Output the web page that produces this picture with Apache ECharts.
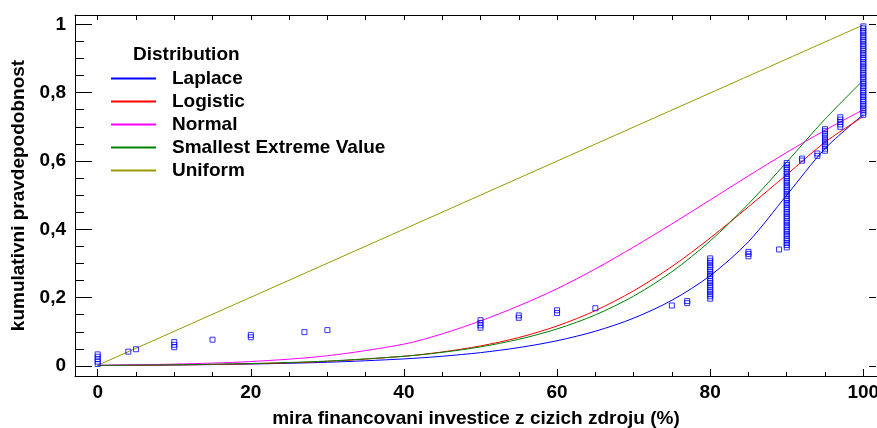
<!DOCTYPE html>
<html>
<head>
<meta charset="utf-8">
<script src="https://cdn.jsdelivr.net/npm/echarts@6/dist/echarts.min.js"></script>
<style>
    html, body { margin: 0; padding: 0; background: #fff; }
    #chart { width: 877px; height: 428px; }
</style>
</head>
<body>
<div id="chart"></div>
<script>
    // fitted CDF curves
    const cdfX = [0, 10, 20, 30, 40, 45, 50, 55, 60, 65, 70, 75, 80, 85, 90, 95, 100]
    const laplaceY = [0.0016, 0.0031, 0.0058, 0.0109, 0.0207, 0.0285, 0.0391, 0.0538, 0.0739, 0.1017, 0.1399, 0.1923, 0.2644, 0.3638, 0.5, 0.6362, 0.7356]
    const logisticY = [0.0014, 0.003, 0.0064, 0.0136, 0.0285, 0.041, 0.0587, 0.0833, 0.117, 0.162, 0.22, 0.291, 0.3745, 0.466, 0.56, 0.655, 0.73]
    const normalY = [0.002, 0.0055, 0.013, 0.03, 0.064, 0.094, 0.132, 0.176, 0.226, 0.284, 0.348, 0.4158, 0.486, 0.5564, 0.625, 0.69, 0.75]
    const sevY = [0.0018, 0.0036, 0.0072, 0.0144, 0.0285, 0.0399, 0.0559, 0.0781, 0.1084, 0.1495, 0.2044, 0.2758, 0.3659, 0.4744, 0.5967, 0.7224, 0.8363]
    const uniformX = [0, 100]
    const uniformY = [0.002, 0.998]

    // observed values (empirical cdf), one list per x value
    const obsX = [0, 4, 5, 10, 15, 20, 27, 30, 50, 55, 60, 65, 75, 77, 80, 85, 89, 90, 92, 94, 95, 97, 100]
    const obsY = [
        [0.006, 0.013, 0.020, 0.027, 0.034],
        [0.042],
        [0.049],
        [0.055, 0.062, 0.070],
        [0.077],
        [0.084, 0.091],
        [0.099],
        [0.105],
        [0.112, 0.119, 0.126, 0.134],
        [0.141, 0.148],
        [0.155, 0.163],
        [0.169],
        [0.177],
        [0.184, 0.190],
        [0.197, 0.204, 0.210, 0.217, 0.223, 0.230, 0.236, 0.243, 0.249, 0.256, 0.263, 0.269, 0.276, 0.282, 0.289, 0.295, 0.302, 0.308, 0.315],
        [0.321, 0.328, 0.334],
        [0.341],
        [0.347, 0.354, 0.360, 0.367, 0.373, 0.380, 0.386, 0.393, 0.399, 0.406, 0.412, 0.419, 0.425, 0.432, 0.438, 0.445, 0.451, 0.458, 0.464, 0.471,
         0.477, 0.484, 0.490, 0.497, 0.503, 0.510, 0.516, 0.523, 0.529, 0.536, 0.542, 0.549, 0.555, 0.562, 0.568, 0.575, 0.581, 0.588, 0.594],
        [0.601, 0.607],
        [0.615, 0.622],
        [0.630, 0.636, 0.643, 0.649, 0.655, 0.662, 0.668, 0.674, 0.680, 0.687, 0.693],
        [0.700, 0.707, 0.714, 0.721, 0.728],
        [0.735, 0.741, 0.748, 0.754, 0.761, 0.767, 0.774, 0.780, 0.787, 0.793, 0.800, 0.806, 0.813, 0.819, 0.826, 0.832, 0.839, 0.845, 0.852, 0.858,
         0.865, 0.871, 0.877, 0.884, 0.890, 0.897, 0.903, 0.910, 0.916, 0.923, 0.929, 0.936, 0.942, 0.949, 0.955, 0.962, 0.968, 0.975, 0.981, 0.988, 0.994]
    ]

    const xMajor = [0, 20, 40, 60, 80, 100]
    const xMinor = [5, 10, 15, 25, 30, 35, 45, 50, 55, 65, 70, 75, 85, 90, 95]
    const xTop = [0, 5, 10, 15, 20, 25, 30, 35, 40, 45, 50, 55, 60, 65, 70, 75, 80, 85, 90, 95, 100]
    const yMajor = [0, 0.2, 0.4, 0.6, 0.8, 1]

    const distNames = ['Laplace', 'Logistic', 'Normal', 'Smallest Extreme Value', 'Uniform']

    const font = 'Liberation Sans, Arial, sans-serif'
    const xMin = -2.965, xMax = 101.79
    const yMin = -0.0293, yMax = 1.0272

    function pairs (xs, ys) {
        return xs.map((x, i) => [x, ys[i]])
    }

    let points = []
    obsX.forEach((x, i) => {
        obsY[i].forEach(y => points.push([x, y]))
    })

    const boldText = { fontSize: 19, fontWeight: 'bold', color: '#000', fontFamily: font }

    // grid 0 = the frame with the data, grid 1 = only the y ticks (0..1 exactly)
    function xAx (extra) {
        return Object.assign({
            type: 'value', min: xMin, max: xMax, position: 'bottom',
            splitLine: { show: false },
            axisLine: { show: false, onZero: false },
            axisLabel: { show: false },
            axisTick: { show: false }
        }, extra)
    }

    function lineSeries (name, xs, ys, color) {
        return {
            name: name,
            type: 'line',
            data: pairs(xs, ys),
            smooth: 0.3,
            showSymbol: false,
            symbol: 'none',
            lineStyle: { color: color, width: 1 },
            itemStyle: { color: color },
            z: 2
        }
    }

    const option = {
        animation: false,
        backgroundColor: '#fff',
        textStyle: { fontFamily: font },
        title: {
            text: 'Distribution',
            left: 133,
            top: 45,
            padding: 0,
            textStyle: boldText
        },
        legend: {
            data: distNames,
            orient: 'vertical',
            left: 110,
            top: 69,
            padding: 0,
            itemGap: 4,
            itemWidth: 45,
            itemHeight: 14,
            itemStyle: { color: 'rgba(0,0,0,0)', borderWidth: 0, opacity: 0 },
            textStyle: Object.assign({ padding: [0, 0, 0, 11] }, boldText)
        },
        grid: [
            { left: 75, top: 15, right: 0, bottom: 52, outerBoundsMode: 'none' },
            { left: 0, top: 24.3, right: 0, bottom: 62, outerBoundsMode: 'none' }
        ],
        xAxis: [
            xAx({
                name: 'mira financovani investice z cizich zdroju (%)',
                nameLocation: 'middle',
                nameGap: 33,
                nameTextStyle: boldText,
                axisLine: { show: true, onZero: false, lineStyle: { color: '#000', width: 1 } },
                axisTick: { show: true, inside: true, length: 7, customValues: xMajor, lineStyle: { color: '#000' } },
                axisLabel: Object.assign({ show: true, customValues: xMajor, margin: 7 }, boldText)
            }),
            xAx({
                axisTick: { show: true, inside: true, length: 4, customValues: xMinor, lineStyle: { color: '#000' } }
            }),
            xAx({
                position: 'top',
                axisLine: { show: true, onZero: false, lineStyle: { color: '#000', width: 1 } },
                axisTick: { show: true, inside: true, length: 5, customValues: xTop, lineStyle: { color: '#000' } }
            }),
            // pixel helpers in grid 1: their zero is where the y tick axes stand
            { type: 'value', gridIndex: 1, min: -75, max: 802, show: false, axisLine: { onZero: false } },
            { type: 'value', gridIndex: 1, min: -876, max: 1, show: false, axisLine: { onZero: false } }
        ],
        yAxis: [
            {
                type: 'value', min: yMin, max: yMax, position: 'left',
                name: 'kumulativni pravdepodobnost',
                nameLocation: 'middle',
                nameGap: 47,
                nameTextStyle: boldText,
                splitLine: { show: false },
                axisLabel: { show: false },
                axisTick: { show: false },
                axisLine: { show: true, onZero: false, lineStyle: { color: '#000', width: 1 } }
            },
            {
                type: 'value', gridIndex: 1, position: 'left', min: 0, max: 1, interval: 0.2,
                splitLine: { show: false },
                axisLine: { show: false, onZero: true, onZeroAxisIndex: 3 },
                axisTick: { show: true, inside: true, length: 17, lineStyle: { color: '#000' } },
                minorTick: { show: true, splitNumber: 4, length: 9, lineStyle: { color: '#000' } },
                axisLabel: { show: false }
            },
            {
                type: 'value', gridIndex: 1, position: 'right', min: 0, max: 1, interval: 0.2,
                splitLine: { show: false },
                axisLine: { show: false, onZero: true, onZeroAxisIndex: 4 },
                axisTick: { show: true, inside: true, length: 7, lineStyle: { color: '#000' } },
                axisLabel: { show: false }
            }
        ],
        series: [
            lineSeries('Laplace', cdfX, laplaceY, '#0000ff'),
            lineSeries('Logistic', cdfX, logisticY, '#ff0000'),
            lineSeries('Normal', cdfX, normalY, '#ff00ff'),
            lineSeries('Smallest Extreme Value', cdfX, sevY, '#008000'),
            lineSeries('Uniform', uniformX, uniformY, '#999900'),
            {
                name: 'observed',
                type: 'scatter',
                data: points,
                symbol: 'rect',
                symbolSize: 5,
                itemStyle: { color: 'rgba(0,0,0,0)', borderColor: '#0000ff', borderWidth: 1 },
                z: 3
            }
        ]
    }

    const chart = echarts.init(document.getElementById('chart'))
    chart.setOption(option)

    // y tick labels, placed through the tick axis' own scale
    const yLabels = yMajor.map(v => ({
        type: 'text',
        x: 66,
        y: chart.convertToPixel({ yAxisIndex: 1 }, v),
        style: {
            text: String(v).replace('.', ','),
            font: 'bold 19px ' + font,
            fill: '#000',
            align: 'right',
            verticalAlign: 'middle',
            textAlign: 'right',
            textVerticalAlign: 'middle'
        }
    }))
    chart.setOption({ graphic: yLabels })
</script>
</body>
</html>
